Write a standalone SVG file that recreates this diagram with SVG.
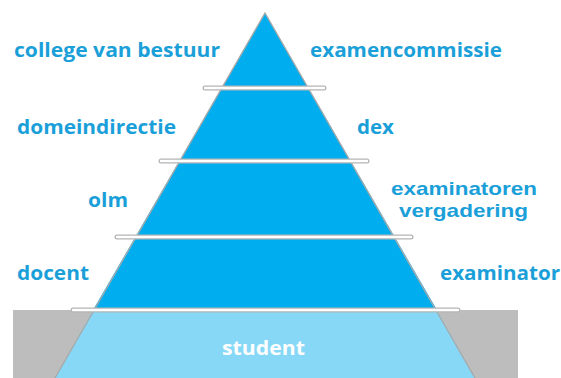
<svg xmlns="http://www.w3.org/2000/svg" width="561" height="378" viewBox="0 0 561 378">
<style>
.lbl{font-family:"Open Sans","Noto Sans","DejaVu Sans",sans-serif;font-weight:bold;font-size:20px;fill:#1a9fd9}
.sm{font-family:"Liberation Sans",Arial,sans-serif;font-size:19px}
.wl{font-family:"Open Sans","Noto Sans","DejaVu Sans",sans-serif;font-weight:bold;font-size:20px;fill:#ffffff}
.band{stroke:#b4b4b4;stroke-width:5;stroke-linecap:round}
.bandin{stroke:#ffffff;stroke-width:2.4;stroke-linecap:round}
</style>
<rect width="561" height="378" fill="#ffffff"/>
<g id="base">
<rect x="13" y="310" width="505" height="68" fill="#bdbdbd"/>
<polygon points="93,310 437,310 475,378 55,378" fill="#87d8f7"/>
</g>
<g id="pyramid">
<polygon points="265,13 437,310 93,310" fill="#00aeef"/>
<polyline points="55,378 265,13 475,378" fill="none" stroke="#a8a8a8" stroke-width="1.3"/>
</g>
<g id="connectors">
<line class="band" x1="205" y1="88" x2="324" y2="88"/>
<line class="bandin" x1="205" y1="88" x2="324" y2="88"/>
<line class="band" x1="161" y1="161" x2="367" y2="161"/>
<line class="bandin" x1="161" y1="161" x2="367" y2="161"/>
<line class="band" x1="117" y1="237" x2="411" y2="237"/>
<line class="bandin" x1="117" y1="237" x2="411" y2="237"/>
<line class="band" x1="73" y1="310" x2="458" y2="310"/>
<line class="bandin" x1="73" y1="310" x2="458" y2="310"/>
</g>
<g id="n-cvb"><text class="lbl" x="14" y="57" textLength="206" lengthAdjust="spacingAndGlyphs">college van bestuur</text></g>
<g id="n-examencommissie"><text class="lbl" x="310" y="57" textLength="192" lengthAdjust="spacingAndGlyphs">examencommissie</text></g>
<g id="n-domeindirectie"><text class="lbl" x="17" y="134" textLength="159" lengthAdjust="spacingAndGlyphs">domeindirectie</text></g>
<g id="n-dex"><text class="lbl" x="357" y="134" textLength="37" lengthAdjust="spacingAndGlyphs">dex</text></g>
<g id="n-olm"><text class="lbl" x="88" y="207" textLength="40" lengthAdjust="spacingAndGlyphs">olm</text></g>
<g id="n-examinatorenvergadering">
<text class="lbl sm" x="391" y="195" textLength="146" lengthAdjust="spacingAndGlyphs">examinatoren</text>
<text class="lbl sm" x="399" y="217" textLength="129" lengthAdjust="spacingAndGlyphs">vergadering</text>
</g>
<g id="n-docent"><text class="lbl" x="17" y="280" textLength="72" lengthAdjust="spacingAndGlyphs">docent</text></g>
<g id="n-examinator"><text class="lbl" x="440" y="280" textLength="120" lengthAdjust="spacingAndGlyphs">examinator</text></g>
<g id="n-student"><text class="wl" x="222" y="355" textLength="83" lengthAdjust="spacingAndGlyphs">student</text></g>
</svg>
